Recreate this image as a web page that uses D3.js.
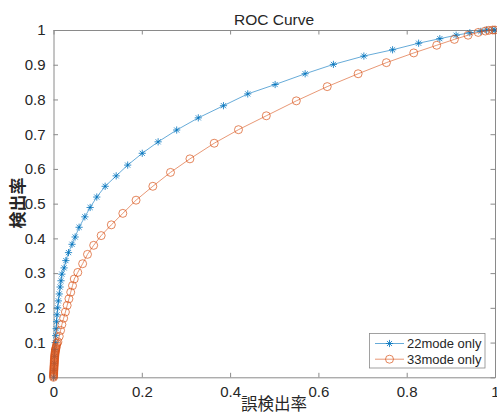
<!DOCTYPE html>
<html><head><meta charset="utf-8">
<script src="https://cdn.jsdelivr.net/npm/d3@7"></script>
<style>body{margin:0;background:#fff}svg{display:block}text{font-family:"Noto Sans CJK JP","Noto Sans",sans-serif}</style>
</head><body>
<script>
const seriesNames = ["22mode only", "33mode only"];
const fpr22 = [0,0.001,0.002,0.0025,0.003,0.004,0.005,0.006,0.007,0.008,0.0095,0.011,0.013,0.015,0.017,0.019,0.024,0.028,0.034,0.042,0.049,0.058,0.071,0.083,0.098,0.117,0.142,0.168,0.201,0.237,0.279,0.328,0.385,0.440,0.502,0.570,0.634,0.703,0.768,0.827,0.875,0.912,0.943,0.968,0.981,0.995,1];
const tpr22 = [0,0.02,0.04,0.06,0.08,0.10,0.12,0.14,0.16,0.18,0.20,0.22,0.24,0.26,0.278,0.297,0.315,0.336,0.359,0.383,0.404,0.432,0.462,0.489,0.519,0.550,0.580,0.611,0.645,0.678,0.712,0.747,0.782,0.816,0.843,0.874,0.901,0.925,0.943,0.962,0.975,0.985,0.992,0.996,1.0,1.0,1];
const fpr33 = [0,0,0,0.0003,0.0005,0.0005,0.0007,0.0008,0.001,0.001,0.0012,0.0013,0.0015,0.0016,0.0018,0.002,0.002,0.0022,0.0024,0.0025,0.0027,0.003,0.0032,0.0035,0.0038,0.004,0.0045,0.005,0.0055,0.006,0.007,0.008,0.010,0.013,0.016,0.019,0.023,0.027,0.031,0.035,0.039,0.043,0.047,0.055,0.066,0.077,0.091,0.108,0.131,0.157,0.187,0.225,0.265,0.309,0.364,0.419,0.482,0.550,0.620,0.690,0.754,0.816,0.868,0.908,0.939,0.962,0.978,0.986,0.995,1];
const tpr33 = [0,0.003,0.006,0.009,0.012,0.015,0.018,0.021,0.024,0.027,0.030,0.033,0.036,0.039,0.042,0.045,0.048,0.051,0.054,0.057,0.060,0.063,0.066,0.069,0.072,0.075,0.078,0.081,0.084,0.087,0.093,0.098,0.102,0.118,0.135,0.152,0.170,0.188,0.207,0.226,0.245,0.264,0.283,0.302,0.327,0.354,0.380,0.408,0.439,0.472,0.510,0.550,0.590,0.629,0.674,0.713,0.753,0.796,0.837,0.874,0.906,0.934,0.956,0.973,0.985,0.993,0.997,0.999,1.0,1];
const ticks = [0,0.1,0.2,0.3,0.4,0.5,0.6,0.7,0.8,0.9,1];
const xTicks = [0,0.2,0.4,0.6,0.8,1];
const titleText = "ROC Curve", xLabel = "誤検出率", yLabel = "検出率";
const colors = ["#0072BD", "#D95319"];

const W = 497, H = 416;
const m = {l:53.5, r:495, t:30, b:377.3};
const svg = d3.select("body").append("svg").attr("width", W).attr("height", H);
const x = d3.scaleLinear().domain([0,1]).range([m.l, m.r]);
const y = d3.scaleLinear().domain([0,1]).range([m.b, m.t]);
const axisCol = "#8a8a8a", textCol = "#262626";
const fmt = d => d === 0 ? "0" : d === 1 ? "1" : d3.format(".1f")(d);

function styleAxis(g){
  g.select(".domain").attr("stroke", axisCol);
  g.selectAll(".tick line").attr("stroke", axisCol);
  g.selectAll(".tick text").attr("fill", textCol).style("font-size","15px").style("font-family","'Liberation Sans','Noto Sans',sans-serif");
}
svg.append("g").attr("transform",`translate(0,${m.b})`).call(d3.axisBottom(x).tickValues(xTicks).tickFormat(fmt).tickSizeInner(-4.5).tickSizeOuter(0).tickPadding(9)).call(styleAxis);
svg.append("g").attr("transform",`translate(0,${m.t})`).call(d3.axisTop(x).tickValues(xTicks).tickFormat("").tickSizeInner(-4.5).tickSizeOuter(0)).call(styleAxis);
svg.append("g").attr("transform",`translate(${m.l},0)`).call(d3.axisLeft(y).tickValues(ticks).tickFormat(fmt).tickSizeInner(-4.5).tickSizeOuter(0).tickPadding(8)).call(styleAxis);
svg.append("g").attr("transform",`translate(${m.r},0)`).call(d3.axisRight(y).tickValues(ticks).tickFormat("").tickSizeInner(-4.5).tickSizeOuter(0)).call(styleAxis);

const series = [
  {name: seriesNames[0], xs: fpr22, ys: tpr22, color: colors[0], marker: "star"},
  {name: seriesNames[1], xs: fpr33, ys: tpr33, color: colors[1], marker: "circle"}
];
const line = d3.line().x(d=>x(d[0])).y(d=>y(d[1]));
const starPath = (cx, cy, r) => {
  const a = r*0.707;
  return `M${cx-r},${cy}L${cx+r},${cy}M${cx},${cy-r}L${cx},${cy+r}M${cx-a},${cy-a}L${cx+a},${cy+a}M${cx-a},${cy+a}L${cx+a},${cy-a}`;
};
function drawMarker(g, cx, cy, s){
  if (s.marker === "star") g.append("path").attr("d", starPath(cx, cy, 3.6)).attr("stroke", s.color).attr("stroke-width", 0.8).attr("fill","none");
  else g.append("circle").attr("cx", cx).attr("cy", cy).attr("r", 4).attr("stroke", s.color).attr("stroke-width", 0.7).attr("fill","none");
}
series.forEach(s => {
  const pts = s.xs.map((v,i)=>[v, s.ys[i]]);
  const g = svg.append("g");
  g.append("path").attr("d", line(pts)).attr("fill","none").attr("stroke", s.color).attr("stroke-width", 0.6);
  pts.forEach(p => drawMarker(g, x(p[0]), y(p[1]), s));
});

svg.append("text").attr("x", 274).attr("y", 25).attr("text-anchor","middle").attr("fill", textCol).style("font-size","15.5px").style("font-family","'Liberation Sans','Noto Sans',sans-serif").text(titleText);
svg.append("text").attr("x", 274).attr("y", 410).attr("text-anchor","middle").attr("fill", textCol).style("font-size","16.5px").text(xLabel);
svg.append("text").attr("transform","translate(24,203) rotate(-90)").attr("text-anchor","middle").attr("fill", textCol).style("font-size","17px").style("font-weight","bold").text(yLabel);

const lg = svg.append("g");
lg.append("rect").attr("x", 369.5).attr("y", 333.5).attr("width", 115.5).attr("height", 34.5).attr("fill","#fff").attr("stroke", axisCol).attr("stroke-width", 0.8);
series.forEach((s,i) => {
  const cy = 343.5 + i*15.7;
  lg.append("line").attr("x1", 375).attr("x2", 404).attr("y1", cy).attr("y2", cy).attr("stroke", s.color).attr("stroke-width", 0.6);
  drawMarker(lg, 389.5, cy, s);
  lg.append("text").attr("x", 407).attr("y", cy + 4.5).attr("fill", textCol).style("font-size","13px").style("font-family","'Liberation Sans','Noto Sans',sans-serif").text(s.name);
});
</script>
</body></html>
